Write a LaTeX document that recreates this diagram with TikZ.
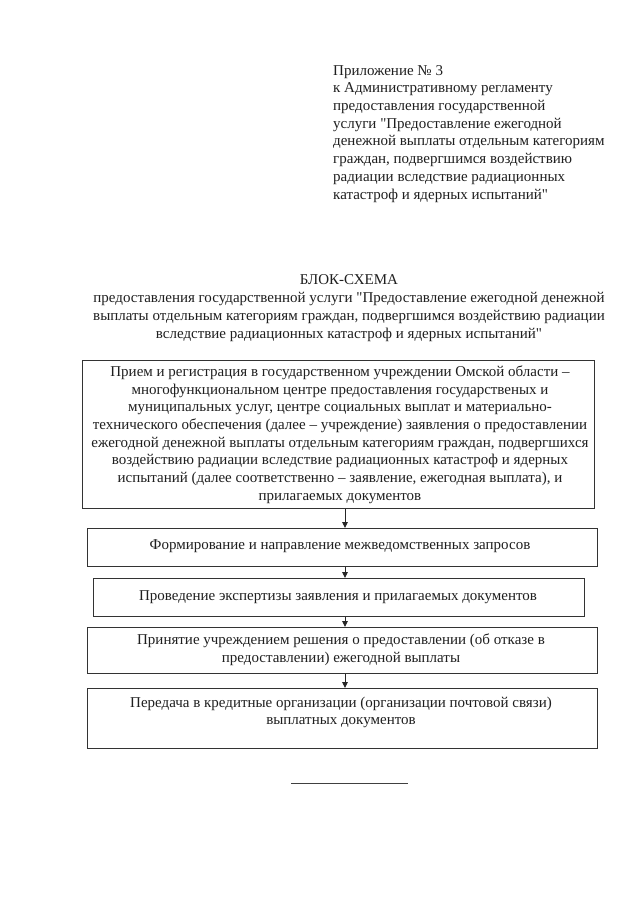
\documentclass[tikz,border=0pt]{standalone}
\usepackage{fontspec}
\setmainfont{Liberation Serif}[Ligatures=TeXOff]
\usetikzlibrary{arrows.meta}
\begin{document}
\begin{tikzpicture}[x=1pt,y=-1pt,
  txt/.style={inner sep=0pt, font=\fontsize{15}{17.7}\selectfont, text=black!88},
  stepbox/.style={draw=black!80, line width=0.9pt, inner sep=0pt, anchor=north west},
  arr/.style={draw=black!85, line width=0.9pt, -{Triangle[length=6pt,width=5.5pt]}}]
\fill[white] (0,0) rectangle (640,905);
\useasboundingbox (0,0) rectangle (640,905);

% header
\node[txt, anchor=north west, align=left] (hdr) at (333,65)
 {Приложение № 3\\
  к Административному регламенту\\
  предоставления государственной\\
  услуги "Предоставление ежегодной\\
  денежной выплаты отдельным категориям\\
  граждан, подвергшимся воздействию\\
  радиации вследствие радиационных\\
  катастроф и ядерных испытаний"};

% title
\node[txt] (title) at (349,280) {БЛОК-СХЕМА};
\node[txt, align=center] (sub) at (349,317)
 {предоставления государственной услуги "Предоставление ежегодной денежной\\
  выплаты отдельным категориям граждан, подвергшимся воздействию радиации\\
  вследствие радиационных катастроф и ядерных испытаний"};

% boxes
\node[stepbox, minimum width=512pt, minimum height=148pt] (b1) at (82,360) {};
\node[stepbox, minimum width=510pt, minimum height=38pt] (b2) at (87,528) {};
\node[stepbox, minimum width=491pt, minimum height=38pt] (b3) at (93,578) {};
\node[stepbox, minimum width=510pt, minimum height=46pt] (b4) at (87,627) {};
\node[stepbox, minimum width=510pt, minimum height=60pt] (b5) at (87,688) {};

% texts
\node[txt, align=center] (t1) at (340,434.5)
 {Прием и регистрация в государственном учреждении Омской области –\\
  многофункциональном центре предоставления государственых и\\
  муниципальных услуг, центре социальных выплат и материально-\\
  технического обеспечения (далее – учреждение) заявления о предоставлении\\
  ежегодной денежной выплаты отдельным категориям граждан, подвергшихся\\
  воздействию радиации вследствие радиационных катастроф и ядерных\\
  испытаний (далее соответственно – заявление, ежегодная выплата), и\\
  прилагаемых документов};
\node[txt] (t2) at (340,546) {Формирование и направление межведомственных запросов};
\node[txt] (t3) at (338,597) {Проведение экспертизы заявления и прилагаемых документов};
\node[txt, align=center] (t4) at (341,650)
 {Принятие учреждением решения о предоставлении (об отказе в\\
  предоставлении) ежегодной выплаты};
\node[txt, align=center] (t5) at (341,712.5)
 {Передача в кредитные организации (организации почтовой связи)\\
  выплатных документов};

% connectors
\coordinate (ax) at (345,0);
\draw[arr] (b1.south -| ax) -- (b2.north -| ax);
\draw[arr] (b2.south -| ax) -- (b3.north -| ax);
\draw[arr] (b3.south -| ax) -- (b4.north -| ax);
\draw[arr] (b4.south -| ax) -- (b5.north -| ax);

% closing rule
\coordinate (r1) at (291,783);
\coordinate (r2) at (408,783);
\draw[black!75, line width=0.9pt] (r1) -- (r2);
\end{tikzpicture}
\end{document}
